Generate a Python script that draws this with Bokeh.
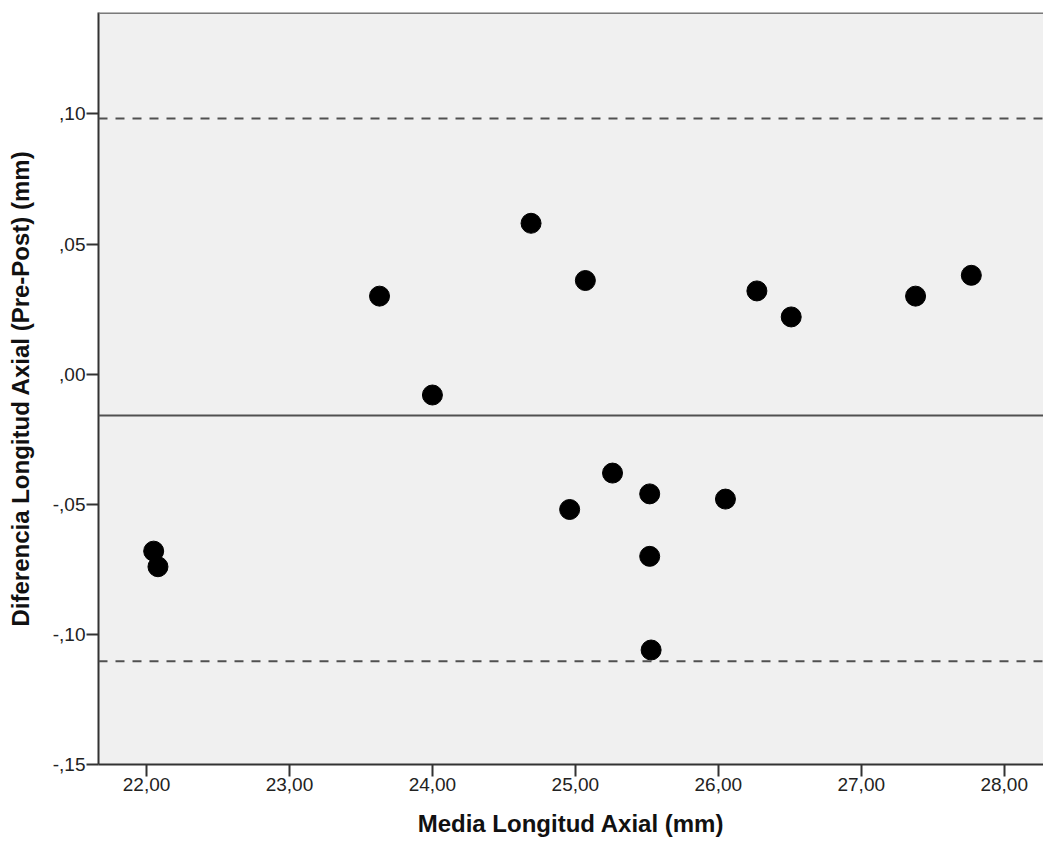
from bokeh.plotting import figure
from bokeh.models import Span, FixedTicker, Range1d
from bokeh.embed import file_html
from bokeh.resources import INLINE

# Data
media = [22.05, 22.08, 23.63, 24.00, 24.69, 25.07, 26.27, 26.51, 27.38, 27.77,
         24.96, 25.26, 25.52, 26.05, 25.52, 25.53]
diferencia = [-0.068, -0.074, 0.030, -0.008, 0.058, 0.036, 0.032, 0.022, 0.030, 0.038,
              -0.052, -0.038, -0.046, -0.048, -0.070, -0.106]

media_dif = -0.0159
lim_sup = 0.0983
lim_inf = -0.1103

x_ticks = [22, 23, 24, 25, 26, 27, 28]
x_tick_labels = ["22,00", "23,00", "24,00", "25,00", "26,00", "27,00", "28,00"]
y_ticks = [-0.15, -0.10, -0.05, 0.0, 0.05, 0.10]
y_tick_labels = ["-,15", "-,10", "-,05", ",00", ",05", ",10"]

X_START, X_END = 21.664, 28.275
Y_START, Y_END = -0.15, 0.139

p = figure(width=1043, height=843, output_backend="svg", toolbar_location=None,
           x_range=Range1d(X_START, X_END), y_range=Range1d(Y_START, Y_END),
           min_border_left=98, min_border_right=0, min_border_top=12, min_border_bottom=79,
           background_fill_color="#F0F0F0", border_fill_color="white")
p.outline_line_color = None
p.grid.visible = False

FONT = "Liberation Sans"
for ax in (p.xaxis[0], p.yaxis[0]):
    ax.axis_line_color = "#333333"
    ax.axis_line_width = 2
    ax.major_tick_line_color = "#333333"
    ax.major_tick_line_width = 2
    ax.major_tick_out = 12
    ax.major_tick_in = 0
    ax.minor_tick_line_color = None
    ax.major_label_standoff = 1
    ax.major_label_text_font = FONT
    ax.major_label_text_font_size = "19px"
    ax.major_label_text_color = "#222222"
    ax.axis_label_text_font = FONT
    ax.axis_label_text_font_size = "24px"
    ax.axis_label_text_font_style = "bold"
    ax.axis_label_text_color = "#111111"

p.xaxis.ticker = FixedTicker(ticks=x_ticks)
p.xaxis.major_label_overrides = {t: l for t, l in zip(x_ticks, x_tick_labels)}
p.yaxis.ticker = FixedTicker(ticks=y_ticks)
p.yaxis.major_label_overrides = {t: l for t, l in zip(y_ticks, y_tick_labels)}
p.xaxis.axis_label = "Media Longitud Axial (mm)"
p.yaxis.axis_label = "Diferencia Longitud Axial (Pre-Post) (mm)"
p.xaxis.axis_label_standoff = 16
p.yaxis.axis_label_standoff = 16

# top border
p.add_layout(Span(location=Y_END, dimension="width", line_color="#7a7a7a", line_width=3))

# limits and mean
p.add_layout(Span(location=lim_sup, dimension="width", line_color="#505050",
                  line_width=2, line_dash="9 8"))
p.add_layout(Span(location=lim_inf, dimension="width", line_color="#505050",
                  line_width=2, line_dash="9 8"))
p.add_layout(Span(location=media_dif, dimension="width", line_color="#505050",
                  line_width=2))

p.scatter(media, diferencia, size=20, color="black")

open("out.html", "w").write(file_html(p, INLINE))
